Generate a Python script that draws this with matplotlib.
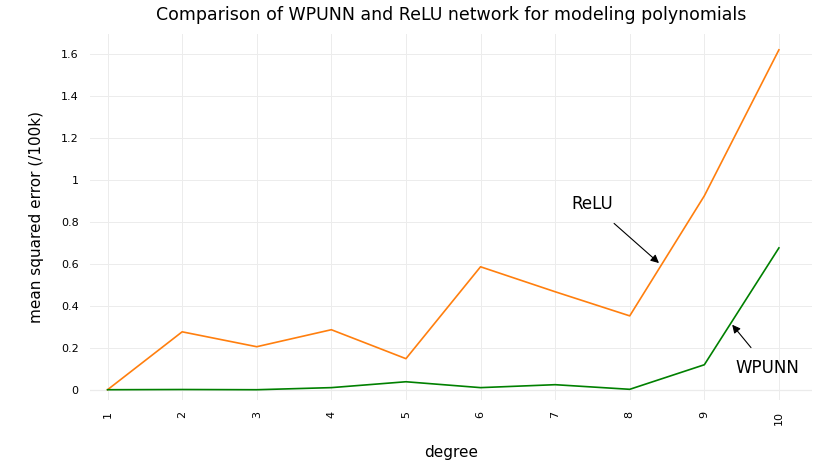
import matplotlib
matplotlib.use("Agg")
import matplotlib.pyplot as plt

degree = [1, 2, 3, 4, 5, 6, 7, 8, 9, 10]
relu = [0.0, 0.276, 0.205, 0.286, 0.148, 0.586, 0.467, 0.352, 0.924, 1.62]
wpunn = [0.0, 0.001, 0.0, 0.01, 0.038, 0.01, 0.024, 0.002, 0.119, 0.676]
yticks = [0, 0.2, 0.4, 0.6, 0.8, 1, 1.2, 1.4, 1.6]
ylabels = ["0", "0.2", "0.4", "0.6", "0.8", "1", "1.2", "1.4", "1.6"]

fig = plt.figure(figsize=(8.3, 4.67), dpi=100)
ax = fig.add_axes([0.108, 0.143, 0.87, 0.784])
ax.plot(degree, relu, color="#ff7f0e", lw=1.2)
ax.plot(degree, wpunn, color="#008000", lw=1.2)
ax.set_xlim(0.76, 10.44)
ax.set_ylim(-0.05, 1.695)
ax.set_xticks(degree)
ax.set_xticklabels([str(d) for d in degree], rotation=90, fontsize=8)
ax.set_yticks(yticks)
ax.set_yticklabels(ylabels, fontsize=8)
ax.tick_params(length=0, pad=8)
for s in ax.spines.values():
    s.set_visible(False)
ax.grid(True, color="#ececec", lw=0.7)
ax.axhline(0, color="#cccccc", lw=0.8, zorder=0)
ax.set_xlabel("degree", fontsize=11, labelpad=14)
ax.set_ylabel("mean squared error (/100k)", fontsize=11, labelpad=12)
ax.set_title("Comparison of WPUNN and ReLU network for modeling polynomials", fontsize=12.5, pad=10)
ax.annotate("ReLU", xy=(8.42, 0.595), xytext=(7.5, 0.86), fontsize=12, ha="center",
            arrowprops=dict(arrowstyle="-|>", color="black", lw=0.8, shrinkA=8))
ax.annotate("WPUNN", xy=(9.35, 0.32), xytext=(9.85, 0.08), fontsize=12, ha="center",
            arrowprops=dict(arrowstyle="-|>", color="black", lw=0.8, shrinkA=8))
fig.savefig("out.png")
